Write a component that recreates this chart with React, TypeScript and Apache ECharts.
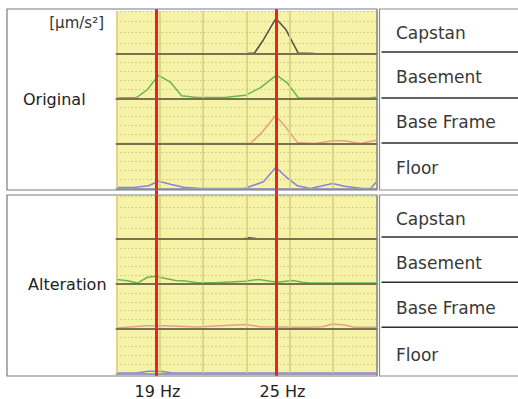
import React, { useEffect, useRef } from "react";
import * as echarts from "echarts";

// ---------- data ----------
const categories = ["Capstan", "Basement", "Base Frame", "Floor"];
const panelNames = ["Original", "Alteration"];
const unitLabel = "[μm/s²]";
const markerFreqs = [19, 25];
const markerLabels = ["19 Hz", "25 Hz"];
const freqMin = 17;
const freqMax = 30;

const capstanOrig = [[23.5, 0], [23.9, 0.05], [24.3, 1.15], [24.97, 3.3], [25.47, 2.25], [26.08, 0.05], [26.9, 0]];
const basementOrig = [[17, 0.05], [18, 0.1], [18.55, 1.0], [19.1, 2.6], [19.7, 1.8], [20.25, 0.3], [21, 0.1], [22.5, 0.15], [23.45, 0.35], [24.2, 1.2], [25, 2.6], [25.55, 1.7], [26.1, 0.05], [29.6, 0.05], [30, 0.15]];
const baseFrameOrig = [[17, 0], [23.7, 0], [24.3, 1.3], [24.95, 3.1], [25.45, 1.85], [26.05, 0.1], [26.9, 0], [27.85, 0.3], [28.4, 0.3], [29.2, 0], [30, 0.35]];
const floorOrig = [[17, 0.1], [17.85, 0.1], [18.6, 0.3], [19.1, 0.8], [19.75, 0.45], [20.35, 0.15], [21.2, 0], [23.4, 0], [24.35, 0.75], [24.97, 2.35], [25.47, 1.3], [26.05, 0.3], [26.7, 0], [27.8, 0.55], [28.4, 0.25], [29.3, 0], [29.7, 0], [30, 0.75]];

const capstanAlt = [[23.3, 0], [23.6, 0.12], [24.0, 0.05], [24.4, 0], [26.9, 0]];
const basementAlt = [[17, 0.5], [17.55, 0.35], [18.05, 0.1], [18.55, 0.75], [18.95, 0.85], [19.4, 0.65], [19.95, 0.4], [20.45, 0.33], [21.05, 0.15], [21.9, 0.15], [23.4, 0.3], [24.1, 0.5], [24.7, 0.3], [25.05, 0.2], [25.8, 0.4], [26.3, 0.2], [26.7, 0.1], [30, 0.1]];
const baseFrameAlt = [[17, 0.05], [18.5, 0.3], [19.4, 0.3], [21, 0.18], [23.4, 0.45], [24.2, 0.2], [26.5, 0.15], [27.3, 0.2], [27.8, 0.5], [28.4, 0.4], [28.9, 0.15], [30, 0.15]];
const floorAlt = [[17, 0.05], [18, 0.05], [18.6, 0.25], [19.2, 0.25], [19.8, 0.05], [30, 0.05]];

const panelSeries = [
  [capstanOrig, basementOrig, baseFrameOrig, floorOrig],
  [capstanAlt, basementAlt, baseFrameAlt, floorAlt],
];

// ---------- layout / style ----------
const seriesColors = ["#505050", "#68b84c", "#e2a084", "#8585d6"];
const plotLeft = 116.5;
const plotWidth = 260;
const bandEdges = [
  [11, 53.5, 98.5, 143.5, 188.5],
  [196, 239, 284, 328.5, 373.5],
];
const frameTops = [9, 195];
const frameHeight = 181;
const rowCenters = [
  [33, 77, 122, 167.5],
  [219, 263, 308, 355],
];
const sepLines = [
  [52, 98, 143],
  [237, 282.3, 327.3],
];
const panelLabelY = [99.5, 284];
const panelLabelX = [23, 28];
const labelShift = [2, 12]; // left padding (px) applied to each marker label
const FONT = "DejaVu Sans";

export default function App() {
  const ref = useRef<HTMLDivElement>(null);

  useEffect(() => {
    if (!ref.current) return;
    const chart = echarts.init(ref.current, undefined, { renderer: "svg" });

    const grids: any[] = [];
    const xAxes: any[] = [];
    const yAxes: any[] = [];
    const series: any[] = [];

    panelSeries.forEach((bands, p) => {
      bands.forEach((data, b) => {
        const idx = grids.length;
        const top = bandEdges[p][b];
        const bottom = bandEdges[p][b + 1];
        grids.push({
          left: plotLeft,
          width: plotWidth,
          top,
          height: bottom - top,
          show: true,
          backgroundColor: "#f6f3a8",
          borderWidth: 0,
          outerBoundsMode: "none",
        });
        xAxes.push({
          gridIndex: idx,
          type: "value",
          min: freqMin,
          max: freqMax,
          interval: (freqMax - freqMin) / 6,
          z: 3,
          axisLine: {
            show: true,
            onZero: false,
            lineStyle: { color: b === 3 ? "#9d9cb6" : "#77724f", width: 2 },
          },
          axisTick: { show: false },
          axisLabel: { show: false },
          splitLine: { show: true, lineStyle: { color: "#d6d07c", width: 1.6 } },
        });
        yAxes.push({
          gridIndex: idx,
          type: "value",
          min: 0,
          max: b === 0 ? 4 : 5,
          interval: 1,
          axisLine: { show: false },
          axisTick: { show: false },
          axisLabel: { show: false },
          splitLine: { show: true, lineStyle: { color: "#c2ba70", width: 1.2, type: [1.2, 2.6] } },
        });
        series.push({
          type: "line",
          name: `${panelNames[p]} ${categories[b]}`,
          xAxisIndex: idx,
          yAxisIndex: idx,
          data,
          symbol: "none",
          silent: true,
          z: 2,
          lineStyle: { color: seriesColors[b], width: 1.5 },
        });
      });
    });

    // overlay grid for marker lines and frequency labels
    const ov = grids.length;
    grids.push({
      left: plotLeft,
      width: plotWidth,
      top: 9,
      height: 367,
      show: false,
      outerBoundsMode: "none",
    });
    const rich: any = {};
    markerFreqs.forEach((_, i) => {
      rich[`m${i}`] = {
        fontSize: 16,
        fontFamily: FONT,
        color: "#222",
        padding: [0, 0, 0, labelShift[i]],
      };
    });
    xAxes.push({
      gridIndex: ov,
      type: "value",
      min: freqMin,
      max: freqMax,
      axisLine: { show: false },
      axisTick: { show: false },
      splitLine: { show: false },
      axisLabel: {
        show: true,
        customValues: markerFreqs,
        formatter: (v: number) => {
          const i = markerFreqs.indexOf(v);
          return i >= 0 ? `{m${i}|${markerLabels[i]}}` : "";
        },
        rich,
        margin: 7,
        fontSize: 16,
        fontFamily: FONT,
        color: "#222",
      },
    });
    yAxes.push({
      gridIndex: ov,
      type: "value",
      min: 0,
      max: 1,
      show: false,
    });
    series.push({
      type: "line",
      xAxisIndex: ov,
      yAxisIndex: ov,
      data: [],
      z: 20,
      silent: true,
      markLine: {
        symbol: ["none", "none"],
        silent: true,
        label: { show: false },
        lineStyle: { color: "#ee2020", width: 3, type: "solid" },
        data: markerFreqs.map((v) => ({ xAxis: v })),
      },
    });

    const graphics: any[] = [];
    frameTops.forEach((t, p) => {
      graphics.push({
        type: "rect",
        z: 10,
        shape: { x: 7, y: t, width: 370, height: frameHeight },
        style: { fill: "none", stroke: "#7a7a7a", lineWidth: 1.2 },
      });
      graphics.push({
        type: "rect",
        z: 10,
        shape: { x: 379.5, y: t, width: 160, height: frameHeight },
        style: { fill: "none", stroke: "#8a8a8a", lineWidth: 1.2 },
      });
      sepLines[p].forEach((y) => {
        graphics.push({
          type: "line",
          z: 10,
          shape: { x1: 381.5, y1: y, x2: 518, y2: y },
          style: { stroke: "#2e2e2e", lineWidth: 1.5 },
        });
      });
      categories.forEach((c, r) => {
        graphics.push({
          type: "text",
          z: 10,
          x: 396,
          y: rowCenters[p][r],
          style: {
            text: c,
            fontSize: 17,
            fontFamily: FONT,
            fill: "#383838",
            align: "left",
            verticalAlign: "middle",
          },
        });
      });
      graphics.push({
        type: "text",
        z: 10,
        x: panelLabelX[p],
        y: panelLabelY[p],
        style: {
          text: panelNames[p],
          fontSize: 16,
          fontFamily: FONT,
          fill: "#222",
          align: "left",
          verticalAlign: "middle",
        },
      });
    });
    graphics.push({
      type: "text",
      z: 10,
      x: 104,
      y: 23,
      style: {
        text: unitLabel,
        fontSize: 15,
        fontFamily: FONT,
        fill: "#333",
        align: "right",
        verticalAlign: "middle",
      },
    });

    chart.setOption({
      animation: false,
      backgroundColor: "#ffffff",
      grid: grids,
      xAxis: xAxes,
      yAxis: yAxes,
      series,
      graphic: { elements: graphics },
    });

    return () => chart.dispose();
  }, []);

  return (
    <div
      ref={ref}
      style={{ position: "fixed", left: 0, top: 0, width: 518, height: 399 }}
    />
  );
}
